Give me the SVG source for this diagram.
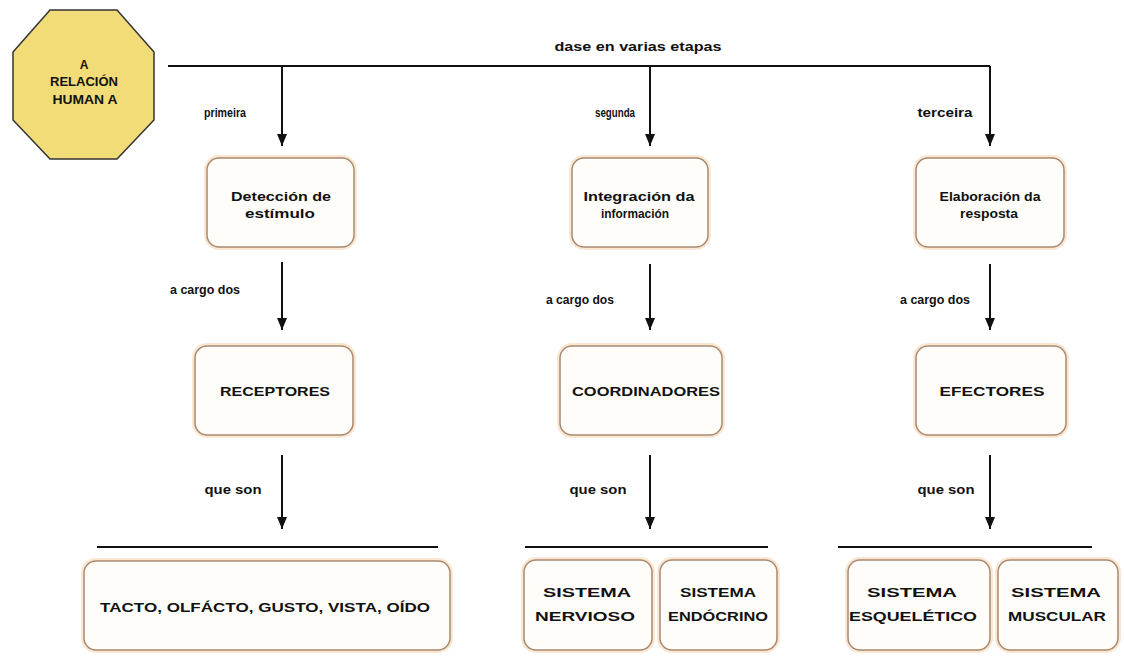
<svg xmlns="http://www.w3.org/2000/svg" width="1124" height="657" viewBox="0 0 1124 657">
<style>
.t{font-family:"Liberation Sans","DejaVu Sans",sans-serif;font-weight:bold;font-size:12px;fill:#111;}
.box{fill:#fffdfa;stroke:#a88a70;stroke-width:1.5;}
.halo{fill:none;stroke:#fbe6d2;stroke-width:6;}
.ln{stroke:#111;stroke-width:2;fill:none;}
</style>
<defs>
<marker id="ah" viewBox="0 0 12 10" refX="12" refY="5" markerWidth="12" markerHeight="10" markerUnits="userSpaceOnUse" orient="auto">
<path d="M0,0 L12,5 L0,10 Z" fill="#111"/>
</marker>
</defs>
<rect width="1124" height="657" fill="#ffffff"/>

<g id="connectors">
<path class="ln" d="M168,66 H990"/>
<path class="ln" d="M282,66 V146" marker-end="url(#ah)"/>
<path class="ln" d="M650,66 V146" marker-end="url(#ah)"/>
<path class="ln" d="M990,66 V146" marker-end="url(#ah)"/>
<path class="ln" d="M282,262 V330" marker-end="url(#ah)"/>
<path class="ln" d="M650,264 V330" marker-end="url(#ah)"/>
<path class="ln" d="M990,264 V330" marker-end="url(#ah)"/>
<path class="ln" d="M282,455 V529" marker-end="url(#ah)"/>
<path class="ln" d="M650,455 V529" marker-end="url(#ah)"/>
<path class="ln" d="M990,455 V529" marker-end="url(#ah)"/>
<path class="ln" d="M97,547 H438"/>
<path class="ln" d="M525,547 H768"/>
<path class="ln" d="M838,547 H1092"/>
<text class="t" x="638" y="51" text-anchor="middle" textLength="167" lengthAdjust="spacingAndGlyphs">dase en varias etapas</text>
<text class="t" x="225" y="117" text-anchor="middle" textLength="42" lengthAdjust="spacingAndGlyphs">primeira</text>
<text class="t" x="615" y="117" text-anchor="middle" textLength="40" lengthAdjust="spacingAndGlyphs">segunda</text>
<text class="t" x="945" y="117" text-anchor="middle" textLength="55" lengthAdjust="spacingAndGlyphs">terceira</text>
<text class="t" x="205" y="294" text-anchor="middle" textLength="70" lengthAdjust="spacingAndGlyphs">a cargo dos</text>
<text class="t" x="580" y="304" text-anchor="middle" textLength="68" lengthAdjust="spacingAndGlyphs">a cargo dos</text>
<text class="t" x="935" y="304" text-anchor="middle" textLength="70" lengthAdjust="spacingAndGlyphs">a cargo dos</text>
<text class="t" x="233" y="494" text-anchor="middle" textLength="57" lengthAdjust="spacingAndGlyphs">que son</text>
<text class="t" x="598" y="494" text-anchor="middle" textLength="57" lengthAdjust="spacingAndGlyphs">que son</text>
<text class="t" x="946" y="494" text-anchor="middle" textLength="57" lengthAdjust="spacingAndGlyphs">que son</text>
</g>

<g id="relacion">
<polygon points="50,10 117,10 154,52 154,120 117,159 50,159 13,120 13,52" fill="#f1dc78" stroke="#333" stroke-width="1.5"/>
<text class="t" x="84" y="69" text-anchor="middle" font-size="11">A</text>
<text class="t" x="84" y="86" text-anchor="middle" textLength="68" lengthAdjust="spacingAndGlyphs">RELACIÓN</text>
<text class="t" x="85" y="104" text-anchor="middle" textLength="65" lengthAdjust="spacingAndGlyphs">HUMAN A</text>
</g>

<g id="deteccion">
<rect class="halo" x="207" y="158" width="147" height="89" rx="12"/>
<rect class="box" x="207" y="158" width="147" height="89" rx="12"/>
<text class="t" x="281" y="201" text-anchor="middle" textLength="100" lengthAdjust="spacingAndGlyphs">Detección de</text>
<text class="t" x="280" y="218" text-anchor="middle" textLength="70" lengthAdjust="spacingAndGlyphs">estímulo</text>
</g>
<g id="integracion">
<rect class="halo" x="572" y="158" width="136" height="89" rx="12"/>
<rect class="box" x="572" y="158" width="136" height="89" rx="12"/>
<text class="t" x="639" y="201" text-anchor="middle" textLength="111" lengthAdjust="spacingAndGlyphs">Integración da</text>
<text class="t" x="635" y="218" text-anchor="middle" textLength="68" lengthAdjust="spacingAndGlyphs">información</text>
</g>
<g id="elaboracion">
<rect class="halo" x="916" y="158" width="148" height="89" rx="12"/>
<rect class="box" x="916" y="158" width="148" height="89" rx="12"/>
<text class="t" x="990" y="201" text-anchor="middle" textLength="101" lengthAdjust="spacingAndGlyphs">Elaboración da</text>
<text class="t" x="989" y="218" text-anchor="middle" textLength="58" lengthAdjust="spacingAndGlyphs">resposta</text>
</g>

<g id="receptores">
<rect class="halo" x="195" y="346" width="158" height="89" rx="12"/>
<rect class="box" x="195" y="346" width="158" height="89" rx="12"/>
<text class="t" x="275" y="396" text-anchor="middle" textLength="110" lengthAdjust="spacingAndGlyphs">RECEPTORES</text>
</g>
<g id="coordinadores">
<rect class="halo" x="560" y="346" width="162" height="89" rx="12"/>
<rect class="box" x="560" y="346" width="162" height="89" rx="12"/>
<text class="t" x="646" y="396" text-anchor="middle" textLength="148" lengthAdjust="spacingAndGlyphs">COORDINADORES</text>
</g>
<g id="efectores">
<rect class="halo" x="916" y="346" width="150" height="89" rx="12"/>
<rect class="box" x="916" y="346" width="150" height="89" rx="12"/>
<text class="t" x="992" y="396" text-anchor="middle" textLength="105" lengthAdjust="spacingAndGlyphs">EFECTORES</text>
</g>

<g id="sentidos">
<rect class="halo" x="84" y="561" width="366" height="89" rx="12"/>
<rect class="box" x="84" y="561" width="366" height="89" rx="12"/>
<text class="t" x="265" y="612" text-anchor="middle" textLength="330" lengthAdjust="spacingAndGlyphs">TACTO, OLFÁCTO, GUSTO, VISTA, OÍDO</text>
</g>
<g id="nervioso">
<rect class="halo" x="524" y="560" width="128" height="90" rx="12"/>
<rect class="box" x="524" y="560" width="128" height="90" rx="12"/>
<text class="t" x="587" y="597" text-anchor="middle" textLength="88" lengthAdjust="spacingAndGlyphs">SISTEMA</text>
<text class="t" x="585" y="621" text-anchor="middle" textLength="100" lengthAdjust="spacingAndGlyphs">NERVIOSO</text>
</g>
<g id="endocrino">
<rect class="halo" x="660" y="560" width="117" height="90" rx="12"/>
<rect class="box" x="660" y="560" width="117" height="90" rx="12"/>
<text class="t" x="718" y="597" text-anchor="middle" textLength="76" lengthAdjust="spacingAndGlyphs">SISTEMA</text>
<text class="t" x="718" y="621" text-anchor="middle" textLength="100" lengthAdjust="spacingAndGlyphs">ENDÓCRINO</text>
</g>
<g id="esqueletico">
<rect class="halo" x="848" y="560" width="142" height="90" rx="12"/>
<rect class="box" x="848" y="560" width="142" height="90" rx="12"/>
<text class="t" x="912" y="597" text-anchor="middle" textLength="90" lengthAdjust="spacingAndGlyphs">SISTEMA</text>
<text class="t" x="913" y="621" text-anchor="middle" textLength="128" lengthAdjust="spacingAndGlyphs">ESQUELÉTICO</text>
</g>
<g id="muscular">
<rect class="halo" x="998" y="560" width="120" height="90" rx="12"/>
<rect class="box" x="998" y="560" width="120" height="90" rx="12"/>
<text class="t" x="1056" y="597" text-anchor="middle" textLength="90" lengthAdjust="spacingAndGlyphs">SISTEMA</text>
<text class="t" x="1057" y="621" text-anchor="middle" textLength="98" lengthAdjust="spacingAndGlyphs">MUSCULAR</text>
</g>
</svg>
